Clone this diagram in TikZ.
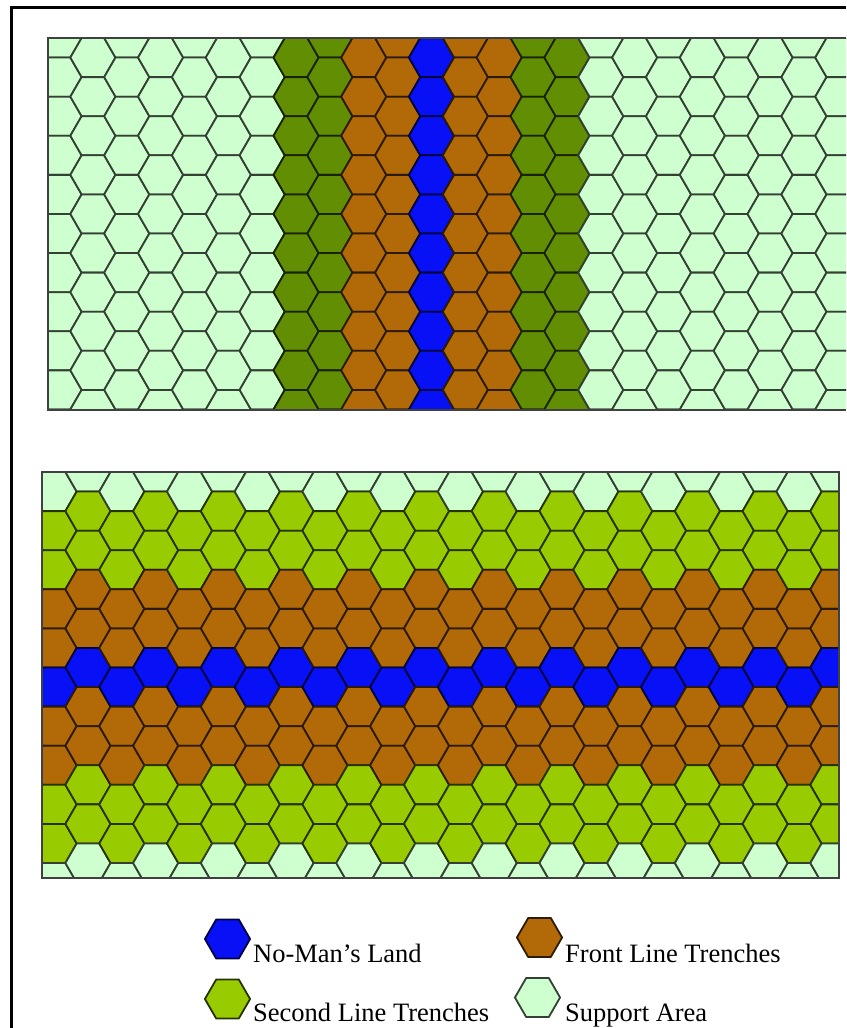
\documentclass[tikz,border=0pt]{standalone}
\usepackage{fontspec}
\setmainfont{Liberation Serif}
\definecolor{nml}{RGB}{8,16,245}
\definecolor{flt}{RGB}{178,106,8}
\definecolor{slt}{RGB}{153,204,0}
\definecolor{sltdark}{RGB}{98,142,4}
\definecolor{sup}{RGB}{206,255,206}
\tikzset{
  hexcell/.style={line width=1.8pt, line join=round},
  panelline/.style={line width=2pt, draw=black!75},
  legendtext/.style={anchor=base west, inner sep=0pt, font=\fontsize{26.5}{30}\selectfont},
}
\newcommand{\hexat}[3]{%
  \filldraw[hexcell, fill=#3, draw=#3!25!black]
    ({#1-22.57},{#2}) -- ({#1-11.29},{#2-19.55}) -- ({#1+11.29},{#2-19.55})
    -- ({#1+22.57},{#2}) -- ({#1+11.29},{#2+19.55}) -- ({#1-11.29},{#2+19.55}) -- cycle;}
\begin{document}
\begin{tikzpicture}[x=1pt, y=-1pt]
  \useasboundingbox[fill=white] (0,0) rectangle (846,1028);
  \begin{scope}
    \clip (48,38) rectangle (846,409.5);
    \foreach \k in {-12,...,13} {
      \pgfmathsetmacro{\X}{431.5+33.86*\k}
      \pgfmathsetmacro{\Yo}{mod(abs(\k),2)==1 ? 38 : 57.55}
      \pgfmathtruncatemacro{\D}{min(abs(\k),5)}
      \edef\C{\ifcase\D nml\or flt\or flt\or sltdark\or sltdark\else sup\fi}
      \foreach \j in {-1,...,10} {
        \hexat{\X}{\Yo+39.1*\j}{\C}
      }
    }
  \end{scope}
  \draw[panelline] (846,38) -- (48,38) -- (48,409.5) -- (846,409.5);
  \begin{scope}
    \clip (42,471.7) rectangle (839,878.3);
    \foreach \i in {-1,...,24} {
      \pgfmathsetmacro{\X}{54.1+33.86*\i}
      \pgfmathsetmacro{\Yo}{mod(abs(\i),2)==1 ? 472 : 491.55}
      \foreach \j in {0,...,10} {
        \pgfmathtruncatemacro{\D}{min(abs(\j-5),5)}
        \edef\C{\ifcase\D nml\or flt\or flt\or slt\or slt\else sup\fi}
        \hexat{\X}{\Yo+39.1*\j}{\C}
      }
    }
  \end{scope}
  \draw[panelline] (42,471.7) rectangle (839,878.3);
  \draw[line width=3pt] (11,1028) -- (11,7) -- (846,7);
  \hexat{227.5}{939}{nml}
  \hexat{539.5}{937.5}{flt}
  \hexat{227.5}{999}{slt}
  \hexat{537.5}{997.5}{sup}
  \node[legendtext] (nomans) at (253,962) {No-Man’s Land};
  \node[legendtext] (front) at (565,962) {Front Line Trenches};
  \node[legendtext] (second) at (253,1021.5) {Second Line Trenches};
  \node[legendtext] (support) at (565,1021.5) {Support Area};
\end{tikzpicture}
\end{document}
